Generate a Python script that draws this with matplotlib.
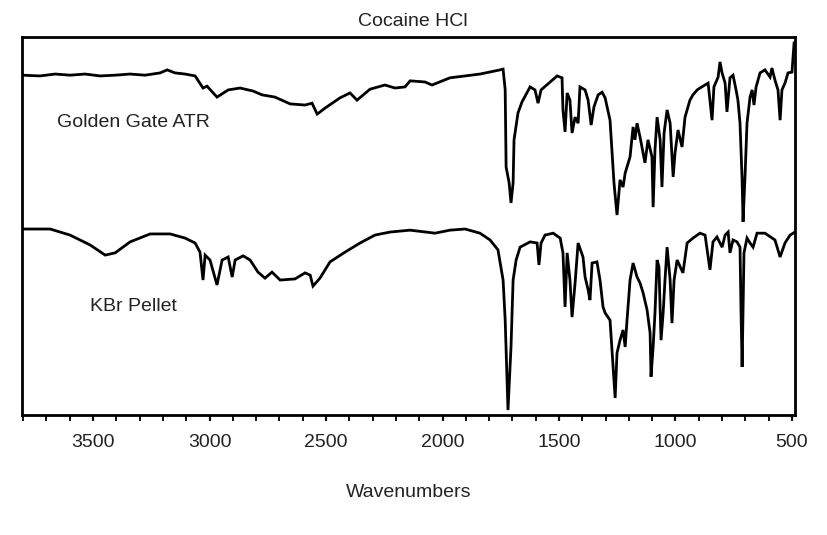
#!/usr/bin/env python3
"""
Cocaine HCl IR spectra: Golden Gate ATR vs. KBr pellet (stacked, offset %T).
"""

import matplotlib
matplotlib.use("Agg")
import matplotlib.pyplot as plt
from matplotlib.ticker import MultipleLocator

matplotlib.rcParams['font.family'] = ['Liberation Sans', 'DejaVu Sans']
matplotlib.rcParams['font.size'] = 14
matplotlib.rcParams['text.color'] = '#222222'
matplotlib.rcParams['xtick.color'] = '#111111'
matplotlib.rcParams['xtick.labelcolor'] = '#222222'

TEXT_COLOR = '#222222'
LINE_COLOR = '#000000'

# ---------------------------------------------------------------------------
# Data (y is offset transmittance, arbitrary)
# ---------------------------------------------------------------------------

atr_wavenumbers = [
    3805, 3727, 3663, 3599, 3534, 3470, 3405, 3341, 3277, 3212,
    3182, 3148, 3105, 3062, 3028, 3011, 2968, 2920, 2869, 2813,
    2775, 2719, 2654, 2590, 2560, 2538, 2504, 2440, 2397, 2367,
    2311, 2247, 2204, 2161, 2139, 2075, 2045, 1968, 1903, 1839,
    1753, 1740, 1731, 1727, 1714, 1706, 1697, 1693, 1676, 1659,
    1624, 1603, 1590, 1577, 1538, 1508, 1487, 1483, 1474, 1465,
    1453, 1444, 1431, 1418, 1410, 1388, 1375, 1362, 1350, 1332,
    1315, 1302, 1281, 1268, 1264, 1251, 1238, 1225, 1216, 1195,
    1182, 1174, 1165, 1152, 1131, 1118, 1101, 1096, 1088, 1079,
    1066, 1058, 1049, 1036, 1023, 1010, 1002, 989, 972, 959,
    938, 925, 907, 895, 873, 860, 843, 835, 817, 809,
    800, 787, 779, 766, 753, 740, 732, 723, 714, 710,
    701, 693, 680, 671, 663, 654, 637, 616, 594, 586,
    573, 560, 551, 543, 530, 517, 500, 491,
]
atr_trans = [
    89.9, 89.7, 90.2, 89.9, 90.2, 89.7, 89.9, 90.2, 89.9, 90.5,
    91.3, 90.5, 90.2, 89.7, 86.5, 87.0, 84.1, 86.0, 86.5, 85.7,
    84.7, 84.1, 82.3, 82.0, 82.5, 79.6, 81.2, 83.9, 85.2, 83.3,
    86.2, 87.3, 86.5, 86.8, 88.4, 88.1, 87.3, 89.2, 89.7, 90.2,
    91.3, 91.5, 86.0, 65.6, 61.4, 56.1, 61.4, 72.8, 79.9, 82.8,
    86.8, 86.0, 82.5, 86.0, 88.1, 89.7, 89.2, 80.7, 74.9, 85.2,
    83.3, 74.6, 78.8, 77.2, 86.8, 86.0, 83.3, 76.7, 81.5, 84.7,
    85.4, 83.9, 78.0, 65.6, 61.4, 52.9, 62.2, 60.3, 64.0, 68.3,
    76.2, 72.8, 77.2, 73.5, 66.7, 72.8, 68.3, 55.0, 70.1, 78.8,
    72.8, 60.3, 74.6, 80.7, 77.2, 63.0, 69.3, 75.4, 70.9, 78.8,
    83.3, 84.7, 86.0, 86.5, 87.3, 87.8, 78.0, 86.8, 89.4, 93.4,
    90.5, 87.8, 80.2, 89.2, 89.9, 86.0, 83.3, 77.2, 62.2, 51.1,
    64.0, 77.2, 84.1, 86.0, 82.0, 86.8, 90.5, 91.3, 89.4, 91.8,
    88.6, 86.0, 78.0, 86.0, 87.8, 90.5, 90.7, 98.4,
]

kbr_wavenumbers = [
    3805, 3684, 3599, 3513, 3448, 3405, 3341, 3255, 3169, 3105,
    3062, 3041, 3028, 3019, 2998, 2968, 2946, 2920, 2903, 2890,
    2856, 2826, 2792, 2762, 2732, 2697, 2633, 2590, 2568, 2556,
    2526, 2483, 2418, 2354, 2290, 2225, 2139, 2032, 1968, 1903,
    1839, 1796, 1762, 1740, 1731, 1723, 1719, 1706, 1697, 1684,
    1667, 1624, 1594, 1586, 1577, 1560, 1525, 1495, 1483, 1474,
    1465, 1453, 1444, 1431, 1418, 1397, 1388, 1375, 1367, 1358,
    1337, 1324, 1311, 1302, 1281, 1268, 1259, 1251, 1238, 1225,
    1216, 1208, 1195, 1182, 1165, 1152, 1139, 1122, 1109, 1105,
    1096, 1088, 1079, 1071, 1062, 1053, 1045, 1036, 1023, 1015,
    1006, 993, 980, 968, 950, 925, 895, 873, 852, 839,
    822, 800, 787, 774, 766, 753, 736, 723, 719, 714,
    706, 693, 680, 667, 650, 616, 573, 551, 530, 508,
    487,
]
kbr_trans = [
    49.2, 49.2, 47.6, 45.0, 42.3, 42.9, 45.8, 47.9, 47.9, 46.8,
    45.5, 43.1, 35.7, 42.3, 41.0, 34.4, 41.0, 41.8, 36.5, 41.0,
    42.1, 41.0, 37.8, 36.2, 37.8, 35.7, 36.0, 37.6, 37.0, 34.1,
    36.2, 40.5, 43.1, 45.5, 47.6, 48.4, 48.9, 48.1, 48.9, 49.2,
    48.1, 46.3, 43.7, 35.7, 25.1, 9.3, 1.3, 18.0, 35.7, 41.0,
    44.4, 45.8, 45.5, 39.7, 45.5, 47.6, 48.1, 46.8, 42.9, 28.6,
    42.9, 35.7, 25.9, 34.9, 45.5, 41.8, 36.5, 33.1, 30.4, 40.2,
    40.5, 35.7, 28.6, 27.0, 25.1, 12.7, 4.5, 16.4, 19.8, 22.5,
    18.0, 25.1, 35.7, 40.2, 36.5, 34.9, 32.3, 27.8, 21.7, 10.1,
    18.0, 27.0, 41.0, 39.2, 19.8, 27.0, 35.7, 44.4, 35.7, 24.3,
    35.7, 41.0, 39.2, 37.6, 45.5, 46.8, 48.1, 47.6, 38.4, 45.8,
    47.1, 44.4, 47.6, 48.4, 42.9, 46.3, 45.8, 44.4, 28.6, 12.7,
    42.9, 46.8, 45.5, 44.4, 48.1, 48.1, 46.3, 41.8, 45.5, 47.6,
    48.4,
]

series_labels = ['Golden Gate ATR', 'KBr Pellet']
label_anchor_wn = [3654, 3513]
label_anchor_t = [77.5, 28.6]

WN_RANGE = (3805, 487)
T_RANGE = (0, 100)


def make_figure(out_path: str) -> None:
    fig = plt.figure(figsize=(8.28, 5.35), dpi=100)
    ax = fig.add_axes([22 / 828, 1 - 415 / 535, 773 / 828, 378 / 535])

    ax.plot(atr_wavenumbers, atr_trans, color=LINE_COLOR, linewidth=2.0,
            solid_joinstyle='miter')
    ax.plot(kbr_wavenumbers, kbr_trans, color=LINE_COLOR, linewidth=2.0,
            solid_joinstyle='miter')

    for label, wn, t in zip(series_labels, label_anchor_wn, label_anchor_t):
        ax.text(wn, t, label, ha='left', va='center', fontsize=14,
                color=TEXT_COLOR)

    ax.set_xlim(*WN_RANGE)
    ax.set_ylim(*T_RANGE)

    # bottom axis only: majors every 500, minors every 100, ticks out
    ax.xaxis.set_major_locator(MultipleLocator(500))
    ax.xaxis.set_minor_locator(MultipleLocator(100))
    ax.tick_params(axis='x', which='major', direction='out', length=4.5,
                   width=1.6, pad=9, labelsize=14)
    ax.tick_params(axis='x', which='minor', direction='out', length=4,
                   width=1.4)
    ax.set_yticks([])
    for side in ['left', 'right', 'top', 'bottom']:
        ax.spines[side].set_linewidth(2.0)
        ax.spines[side].set_color('#000000')

    ax.set_xlabel("Wavenumbers", fontsize=14, color=TEXT_COLOR, labelpad=24)
    fig.text(413 / 828, 1 - 22 / 535, "Cocaine HCl", ha='center',
             va='center', fontsize=14, color=TEXT_COLOR)

    fig.savefig(out_path, dpi=100, facecolor='white')
    plt.close(fig)


def main():
    make_figure("out.png")


if __name__ == "__main__":
    main()
